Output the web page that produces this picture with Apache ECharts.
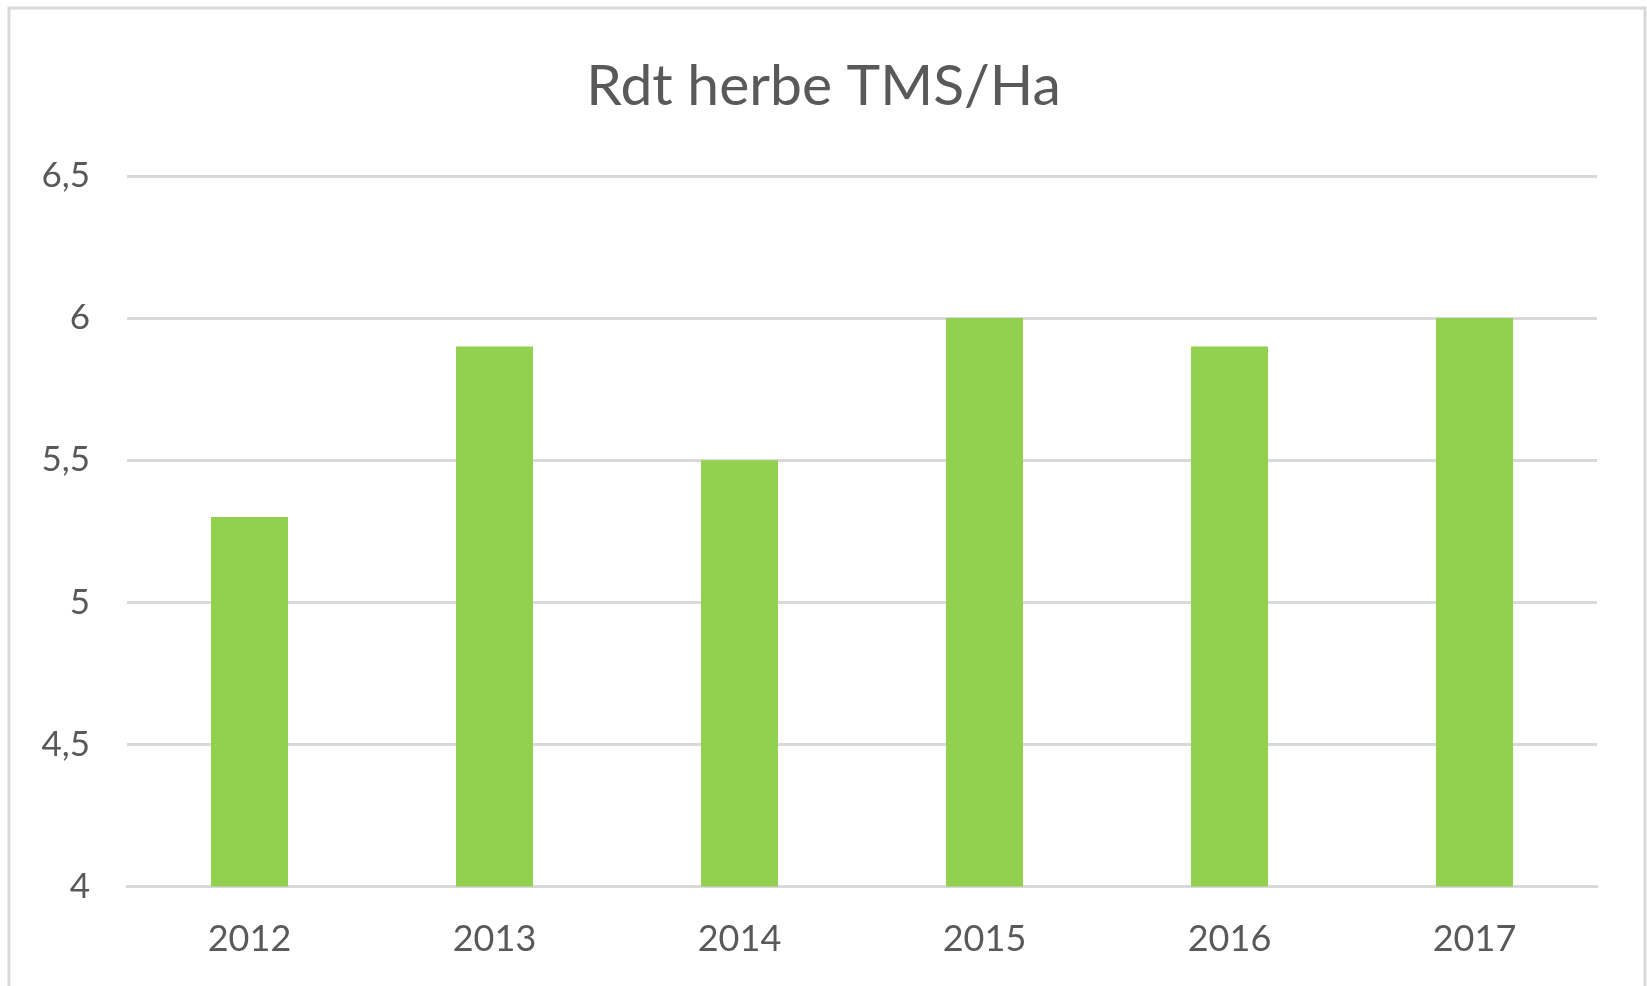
<!DOCTYPE html>
<html>
<head>
<meta charset="utf-8">
<script src="https://cdn.jsdelivr.net/npm/echarts@6/dist/echarts.min.js"></script>
<style>
html,body{margin:0;padding:0;background:#fff;}
#chart{width:1647px;height:986px;}
</style>
</head>
<body>
<div id="chart"></div>
<script>
const categories = ['2012', '2013', '2014', '2015', '2016', '2017'];
const values = [5.3, 5.9, 5.5, 6.0, 5.9, 6.0];
const titleText = 'Rdt herbe TMS/Ha';

const chart = echarts.init(document.getElementById('chart'));
const FONT = 'Lato';
chart.setOption({
  animation: false,
  backgroundColor: '#ffffff',
  title: {
    text: titleText,
    left: 'center',
    top: 53,
    textStyle: { fontFamily: FONT, fontSize: 57, fontWeight: 'normal', color: '#595959' }
  },
  graphic: [{
    type: 'rect',
    shape: { x: 9, y: 8, width: 1636, height: 1000 },
    style: { fill: 'none', stroke: '#d9d9d9', lineWidth: 3 },
    silent: true
  }],
  grid: { left: 127, right: 50, top: 176, bottom: 99.5 },
  xAxis: {
    type: 'category',
    data: categories,
    axisLine: { show: true, lineStyle: { color: '#d9d9d9', width: 3 } },
    axisTick: { show: false },
    axisLabel: { fontFamily: FONT, fontSize: 36, color: '#595959', margin: 35 }
  },
  yAxis: {
    type: 'value',
    min: 4,
    max: 6.5,
    interval: 0.5,
    axisLine: { show: false },
    axisTick: { show: false },
    splitLine: { lineStyle: { color: '#d9d9d9', width: 3 } },
    axisLabel: {
      fontFamily: FONT, fontSize: 35, color: '#595959', margin: 37,
      formatter: v => String(v).replace('.', ',')
    }
  },
  series: [{
    type: 'bar',
    data: values,
    barWidth: 77,
    itemStyle: { color: '#92d050' }
  }]
});
</script>
</body>
</html>
